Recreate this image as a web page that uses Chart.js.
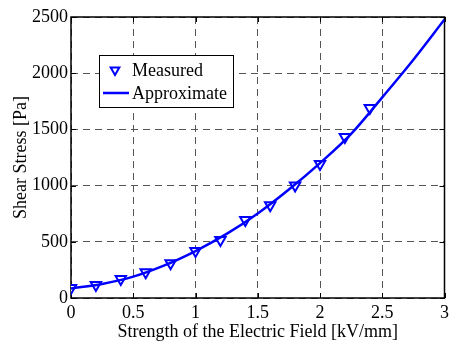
<!DOCTYPE html>
<html>
<head>
<meta charset="utf-8">
<script src="https://cdn.jsdelivr.net/npm/chart.js@4/dist/chart.umd.min.js"></script>
<style>
html,body{margin:0;padding:0;background:#fff;}
#wrap{width:453px;height:343px;position:relative;}
</style>
</head>
<body>
<div id="wrap"><canvas id="c" width="453" height="343"></canvas></div>
<script>
const xMeasured = [0, 0.2, 0.4, 0.6, 0.8, 1.0, 1.2, 1.4, 1.6, 1.8, 2.0, 2.2, 2.4];
const yMeasured = [90, 115, 170, 230, 310, 418, 516, 694, 825, 1000, 1192, 1432, 1690];
const xApprox = [0, 0.25, 0.5, 0.75, 1.0, 1.25, 1.5, 1.75, 2.0, 2.25, 2.5, 2.75, 3.0];
const yApprox = [85, 125, 190, 290, 418, 570, 752, 965, 1200, 1460, 1785, 2120, 2478];
const xTicks = [0, 0.5, 1, 1.5, 2, 2.5, 3];
const yTicks = [0, 500, 1000, 1500, 2000, 2500];
const seriesNames = ['Measured', 'Approximate'];

const FONT = '"Liberation Serif", "Times New Roman", serif';
const BLUE = '#0000ff';
Chart.defaults.font.family = FONT;
Chart.defaults.font.size = 18;
Chart.defaults.color = '#000';

const frame = {
  id: 'frame',
  beforeDatasetsDraw(chart) {
    const {ctx, chartArea: a, scales} = chart;
    ctx.save();
    ctx.strokeStyle = '#000';
    ctx.lineWidth = 1;
    ctx.beginPath();
    xTicks.forEach(v => {
      const px = Math.round(scales.x.getPixelForValue(v)) + 0.5;
      ctx.moveTo(px, a.bottom); ctx.lineTo(px, a.bottom - 5);
      ctx.moveTo(px, a.top); ctx.lineTo(px, a.top + 5);
    });
    yTicks.forEach(v => {
      const py = Math.round(scales.y.getPixelForValue(v)) + 0.5;
      ctx.moveTo(a.left, py); ctx.lineTo(a.left + 5, py);
      ctx.moveTo(a.right, py); ctx.lineTo(a.right - 5, py);
    });
    ctx.stroke();
    ctx.lineWidth = 1.5;
    ctx.strokeRect(a.left, a.top, a.right - a.left, a.bottom - a.top);
    ctx.restore();
  },
  afterDraw(chart) {
    const ctx = chart.ctx;
    const bx = 99, by = 55, bw = 134, bh = 52;
    ctx.save();
    ctx.fillStyle = '#fff';
    ctx.fillRect(bx, by, bw, bh);
    ctx.strokeStyle = '#000';
    ctx.lineWidth = 1;
    ctx.strokeRect(bx + 0.5, by + 0.5, bw, bh);
    const mx = 115, my = 70, r = 5;
    ctx.strokeStyle = BLUE;
    ctx.lineWidth = 2;
    ctx.beginPath();
    ctx.moveTo(mx - r * 0.866, my - r * 0.5);
    ctx.lineTo(mx + r * 0.866, my - r * 0.5);
    ctx.lineTo(mx, my + r);
    ctx.closePath();
    ctx.stroke();
    ctx.lineWidth = 2.5;
    ctx.beginPath();
    ctx.moveTo(103, 93); ctx.lineTo(129, 93);
    ctx.stroke();
    ctx.fillStyle = '#000';
    ctx.font = '18px ' + FONT;
    ctx.textBaseline = 'middle';
    ctx.fillText(seriesNames[0], 132, 71);
    ctx.fillText(seriesNames[1], 132, 94);
    ctx.restore();
  }
};

new Chart(document.getElementById('c'), {
  type: 'scatter',
  data: {
    datasets: [
      {
        label: seriesNames[1],
        type: 'line',
        data: xApprox.map((x, i) => ({x, y: yApprox[i]})),
        borderColor: BLUE,
        borderWidth: 2.5,
        pointRadius: 0,
        cubicInterpolationMode: 'monotone',
        fill: false,
        order: 0
      },
      {
        label: seriesNames[0],
        data: xMeasured.map((x, i) => ({x, y: yMeasured[i]})),
        pointStyle: 'triangle',
        rotation: 180,
        pointRadius: 6,
        pointBorderWidth: 2,
        borderColor: BLUE,
        backgroundColor: '#ffffff',
        showLine: false,
        order: 1
      }
    ]
  },
  options: {
    responsive: false,
    animation: false,
    devicePixelRatio: 1,
    layout: {padding: {top: 17, right: 3, left: 0, bottom: 0}},
    plugins: {legend: {display: false}, tooltip: {enabled: false}},
    scales: {
      x: {
        type: 'linear', min: 0, max: 3,
        afterFit(s) { s.height = 45; },
        afterBuildTicks(s) { s.ticks = xTicks.map(v => ({value: v})); },
        grid: {color: '#555', lineWidth: 1, drawTicks: false},
        border: {display: false, dash: [7,5]},
        ticks: {color: '#000', padding: 4, maxRotation: 0, font: {family: FONT, size: 18},
          callback: v => String(v)},
        title: {display: true, text: 'Strength of the Electric Field [kV/mm]', color: '#000',
          font: {family: FONT, size: 18}, padding: {top: 0, bottom: 0}}
      },
      y: {
        min: 0, max: 2500,
        afterFit(s) { s.width = 71; },
        afterBuildTicks(s) { s.ticks = yTicks.map(v => ({value: v})); },
        grid: {color: '#555', lineWidth: 1, drawTicks: false},
        border: {display: false, dash: [7,5]},
        ticks: {color: '#000', padding: 3, font: {family: FONT, size: 18},
          callback: v => String(v)},
        title: {display: true, text: 'Shear Stress [Pa]', color: '#000',
          font: {family: FONT, size: 18}, padding: {top: 10, bottom: 0}}
      }
    }
  },
  plugins: [frame]
});
</script>
</body>
</html>
